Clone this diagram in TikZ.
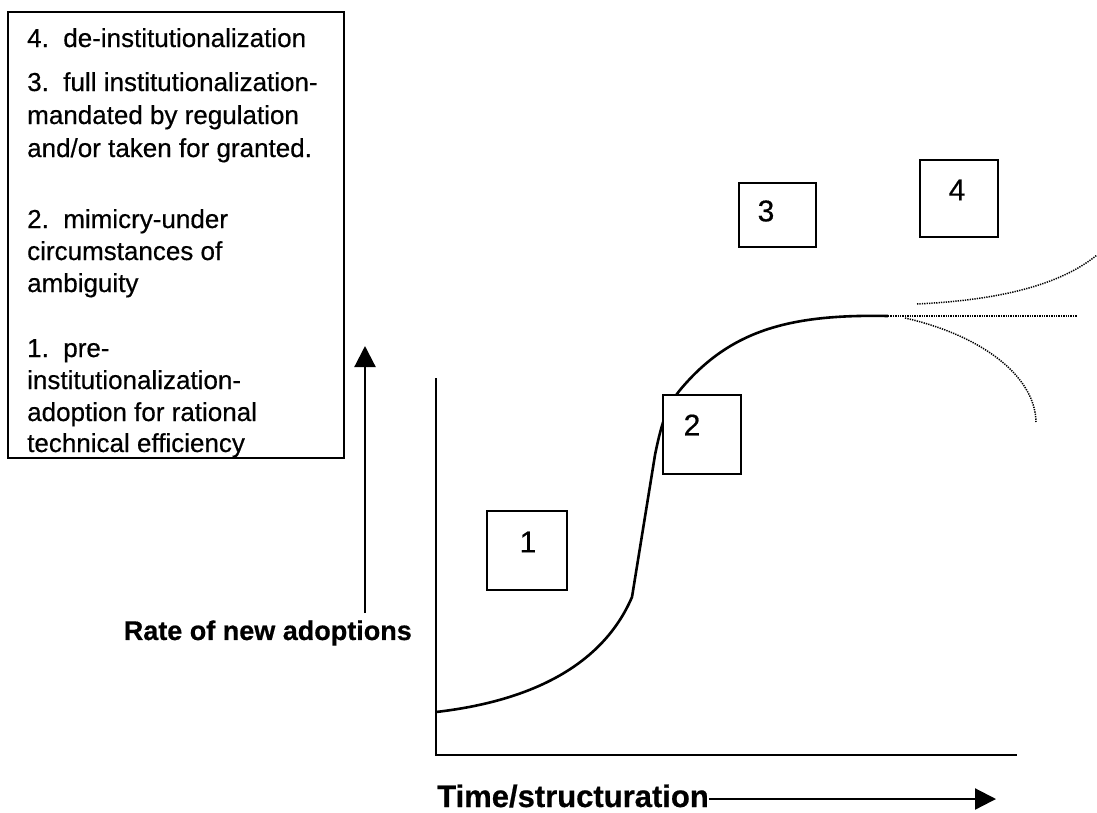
\documentclass[tikz,border=0pt]{standalone}
\usepackage{fontspec}
\setmainfont{Liberation Sans}
\newfontfamily\inkfont{Liberation Sans}[FakeBold=0.5]
\newfontfamily\inkboldfont{Liberation Sans Bold}[FakeBold=0.6]
\usetikzlibrary{arrows.meta}
\begin{document}
\begin{tikzpicture}[x=1pt,y=-1pt,
  legendtext/.style={anchor=base west, inner sep=0pt, font=\inkfont\fontsize{26}{33}\selectfont},
  legendbox/.style={draw, line width=2pt, inner sep=0pt},
  stagebox/.style={draw, line width=2.8pt, fill=white, inner sep=0pt},
  stagenum/.style={inner sep=0pt, font=\inkfont\fontsize{30}{36}\selectfont},
  axislabel/.style={inner sep=0pt, font=\inkboldfont\fontsize{27}{32}\selectfont},
  axisline/.style={line width=2.6pt, line join=miter},
  arrowline/.style={line width=2.2pt, -{Triangle[length=21pt,width=21pt]}},
  curve/.style={line width=2.6pt, line join=round},
  branch/.style={line width=1.5pt, dash pattern=on 1.3pt off 1.1pt}]
\useasboundingbox (0,0) rectangle (1097,812);

% legend of the four stages
\node[legendbox, minimum width=336pt, minimum height=446pt] (legend) at (176,235) {};
\node[legendtext] (l4)  at (27,47)  {4.~~de-institutionalization};
\node[legendtext] (l3a) at (27,91)  {3.~~full institutionalization-};
\node[legendtext] (l3b) at (27,124) {mandated by regulation};
\node[legendtext] (l3c) at (27,157) {and/or taken for granted.};
\node[legendtext] (l2a) at (27,228) {2.~~mimicry-under};
\node[legendtext] (l2b) at (27,260) {circumstances of};
\node[legendtext] (l2c) at (27,292) {ambiguity};
\node[legendtext] (l1a) at (27,357) {1.~~pre-};
\node[legendtext] (l1b) at (27,389) {institutionalization-};
\node[legendtext] (l1c) at (27,421) {adoption for rational};
\node[legendtext] (l1d) at (27,452) {technical efficiency};

% axes
\coordinate (ytop) at (436,378);
\coordinate (origin) at (436,755);
\coordinate (xend) at (1017,755);
\draw[axisline] (ytop) -- (origin) -- (xend);

% vertical axis label and arrow
\node[axislabel, anchor=east] (ratelabel) at (412,633) {Rate of new adoptions};
\coordinate (rateFoot) at (365,613);
\coordinate (rateTip) at (365,346);
\draw[arrowline] (rateFoot) -- (rateTip);

% horizontal axis label and arrow
\node[axislabel, anchor=base west, font=\inkboldfont\fontsize{31}{36}\selectfont] (timelabel) at (437,807) {Time/structuration};
\coordinate (timeTip) at (996,799);
\draw[arrowline] (timelabel.east |- timeTip) -- (timeTip);

% adoption curve
\coordinate (c0) at (436,712);
\coordinate (c1) at (632,597);
\coordinate (c2) at (655,455);
\coordinate (c3) at (680,390);
\coordinate (plateau) at (888,316);
\draw[curve] (c0) .. controls (540,700) and (605,660) .. (c1)
  -- (c2) .. controls (662,420) and (668,405) .. (c3)
  .. controls (730,330) and (790,314) .. (plateau);

% three possible continuations
\coordinate (upStart) at (917,304);
\coordinate (upEnd) at (1097,255);
\coordinate (midEnd) at (1077,316);
\coordinate (downStart) at (905,318);
\coordinate (downEnd) at (1036,422);
\draw[branch] (upStart) .. controls (1000,300) and (1060,285) .. (upEnd);
\draw[branch] (plateau) -- (midEnd);
\draw[branch] (downStart) .. controls (980,335) and (1035,375) .. (downEnd);

% stage markers
\node[stagebox, minimum width=80pt, minimum height=79pt] (s1) at (527,550.5) {};
\node[stagenum] (n1) at (528,542) {1};
\node[stagebox, minimum width=78pt, minimum height=79pt] (s2) at (702,434.5) {};
\node[stagenum] (n2) at (692,425) {2};
\node[stagebox, minimum width=77pt, minimum height=64pt] (s3) at (777.5,215) {};
\node[stagenum] (n3) at (766,211) {3};
\node[stagebox, minimum width=78pt, minimum height=77pt] (s4) at (959,198.5) {};
\node[stagenum] (n4) at (957,190) {4};
\end{tikzpicture}
\end{document}
